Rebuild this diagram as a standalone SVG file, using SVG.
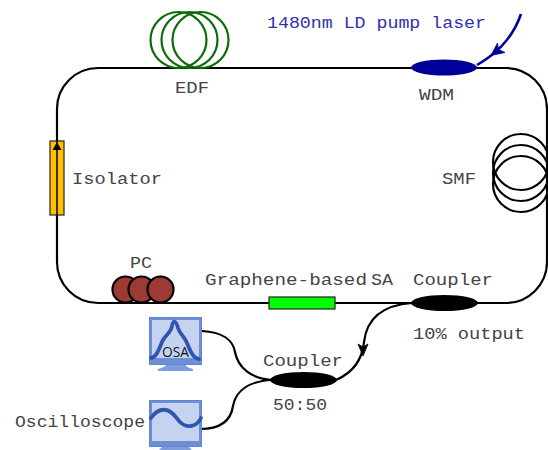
<svg xmlns="http://www.w3.org/2000/svg" width="548" height="450" viewBox="0 0 548 450">
<style>
text{font-family:"Liberation Mono",monospace;font-size:16px;fill:#444;}
.fib{fill:none;stroke:#000;stroke-width:2.2;}
.coil{fill:none;stroke-width:2.2;}
.mb{fill:#6d8fd6;stroke:#5f84d2;stroke-width:1;}
.ms{fill:#c5d3f0;stroke:none;}
.mw{fill:none;stroke:#2f55b0;stroke-width:3.8;stroke-linecap:round;}
</style>
<rect width="548" height="450" fill="#fff"/>
<g id="connectors">
<path class="fib" d="M98 68H506A41 41 0 0 1 547 109V262A41 41 0 0 1 506 303H98A41 41 0 0 1 57 262V109A41 41 0 0 1 98 68Z"/>
<path class="fib" d="M412 303C385 305 367 316 364 342C362 362 352 373 336 380"/>
<path d="M358 344L363 347L368 344L363 356Z" fill="#000" stroke="#000" stroke-width="0.800"/>
<path class="fib" d="M202 331C222 332 233 340 235 352C238 368 252 379 272 380"/>
<path class="fib" d="M200 429C222 429 231 420 233 406C236 390 250 381 272 380"/>
<path d="M521 14C514 34 503 46 493 54C487 59 482 62 477 65" fill="none" stroke="#000099" stroke-width="2.600"/>
<path d="M491 55.500L497.500 43L498.500 49.500L505 52.500Z" fill="#000099" stroke="#000099" stroke-width="0.800"/>
</g>
<g id="edf">
<circle class="coil" stroke="#0b6b0b" cx="178.500" cy="40" r="28"/>
<circle class="coil" stroke="#0b6b0b" cx="189.500" cy="40" r="28"/>
<circle class="coil" stroke="#0b6b0b" cx="200.500" cy="40" r="28"/>
<text x="175" y="93" textLength="34" lengthAdjust="spacingAndGlyphs">EDF</text>
</g>
<g id="pump-label"><text x="267" y="28" style="fill:#3030b0" textLength="219" lengthAdjust="spacingAndGlyphs">1480nm LD pump laser</text></g>
<g id="wdm">
<ellipse cx="444" cy="67.500" rx="33" ry="8" fill="#000099"/>
<text x="419" y="100" textLength="35" lengthAdjust="spacingAndGlyphs">WDM</text>
</g>
<g id="smf">
<circle class="coil" stroke="#000" cx="521" cy="162" r="28"/>
<circle class="coil" stroke="#000" cx="521" cy="173" r="28"/>
<circle class="coil" stroke="#000" cx="521" cy="184" r="28"/>
<text x="442" y="184" textLength="34" lengthAdjust="spacingAndGlyphs">SMF</text>
</g>
<g id="isolator">
<rect x="50" y="141" width="14" height="74" fill="#ffc000" stroke="#222" stroke-width="1.200"/>
<path d="M57 141V215" stroke="#000" stroke-width="1.500"/>
<path d="M52.500 150L57 142L61.500 150Z" fill="#000"/>
<text x="72" y="184" textLength="90" lengthAdjust="spacingAndGlyphs">Isolator</text>
</g>
<g id="pc">
<circle cx="125.500" cy="289.500" r="13" fill="#9c3a33" stroke="#000" stroke-width="2.200"/>
<circle cx="141.500" cy="289.500" r="13" fill="#9c3a33" stroke="#000" stroke-width="2.200"/>
<circle cx="160.500" cy="289.500" r="13" fill="#9c3a33" stroke="#000" stroke-width="2.200"/>
<text x="130" y="268" textLength="22" lengthAdjust="spacingAndGlyphs">PC</text>
</g>
<g id="sa">
<rect x="269" y="297" width="66" height="12" fill="#00ff00" stroke="#222" stroke-width="1.200"/>
<text x="205" y="285" textLength="162" lengthAdjust="spacingAndGlyphs">Graphene-based</text>
<text x="371" y="285" textLength="22" lengthAdjust="spacingAndGlyphs">SA</text>
</g>
<g id="coupler-10">
<ellipse cx="444.500" cy="303" rx="33.500" ry="8" fill="#000"/>
<text x="413" y="285" textLength="80" lengthAdjust="spacingAndGlyphs">Coupler</text>
<text x="413" y="339" textLength="112" lengthAdjust="spacingAndGlyphs">10% output</text>
</g>
<g id="coupler-50">
<ellipse cx="303.500" cy="380" rx="33.500" ry="8" fill="#000"/>
<text x="263" y="366" textLength="80" lengthAdjust="spacingAndGlyphs">Coupler</text>
<text x="273" y="410" textLength="54" lengthAdjust="spacingAndGlyphs">50:50</text>
</g>
<g id="osa">
<path d="M167 364H185C186 367 189 368 193 369V371H158V369C162 368 165 367 167 364Z" fill="#7f9ddd"/>
<rect class="mb" x="149.500" y="317.500" width="52" height="47"/>
<rect class="ms" x="152" y="320" width="47" height="38"/>
<path class="mw" d="M151 358C158 357 160 345 163 340C167 334 171 332 172 326C173 320 176 320 178 328C180 334 183 335 186 341C190 349 192 358 199 359"/>
<text x="162" y="357" style="font-family:'Open Sans','Liberation Sans',sans-serif;font-size:15px;fill:#111" textLength="27" lengthAdjust="spacingAndGlyphs">OSA</text>
</g>
<g id="oscilloscope">
<path d="M162 447H189L192 450H159Z" fill="#7f9ddd"/>
<rect class="mb" x="149.500" y="400.500" width="52" height="46"/>
<rect class="ms" x="152" y="403" width="47" height="38"/>
<path class="mw" d="M151 418C156 411 161 409 166 410C173 411 176 418 180 422C186 428 196 428 201 418"/>
<text x="15" y="427" textLength="130" lengthAdjust="spacingAndGlyphs">Oscilloscope</text>
</g>
</svg>
